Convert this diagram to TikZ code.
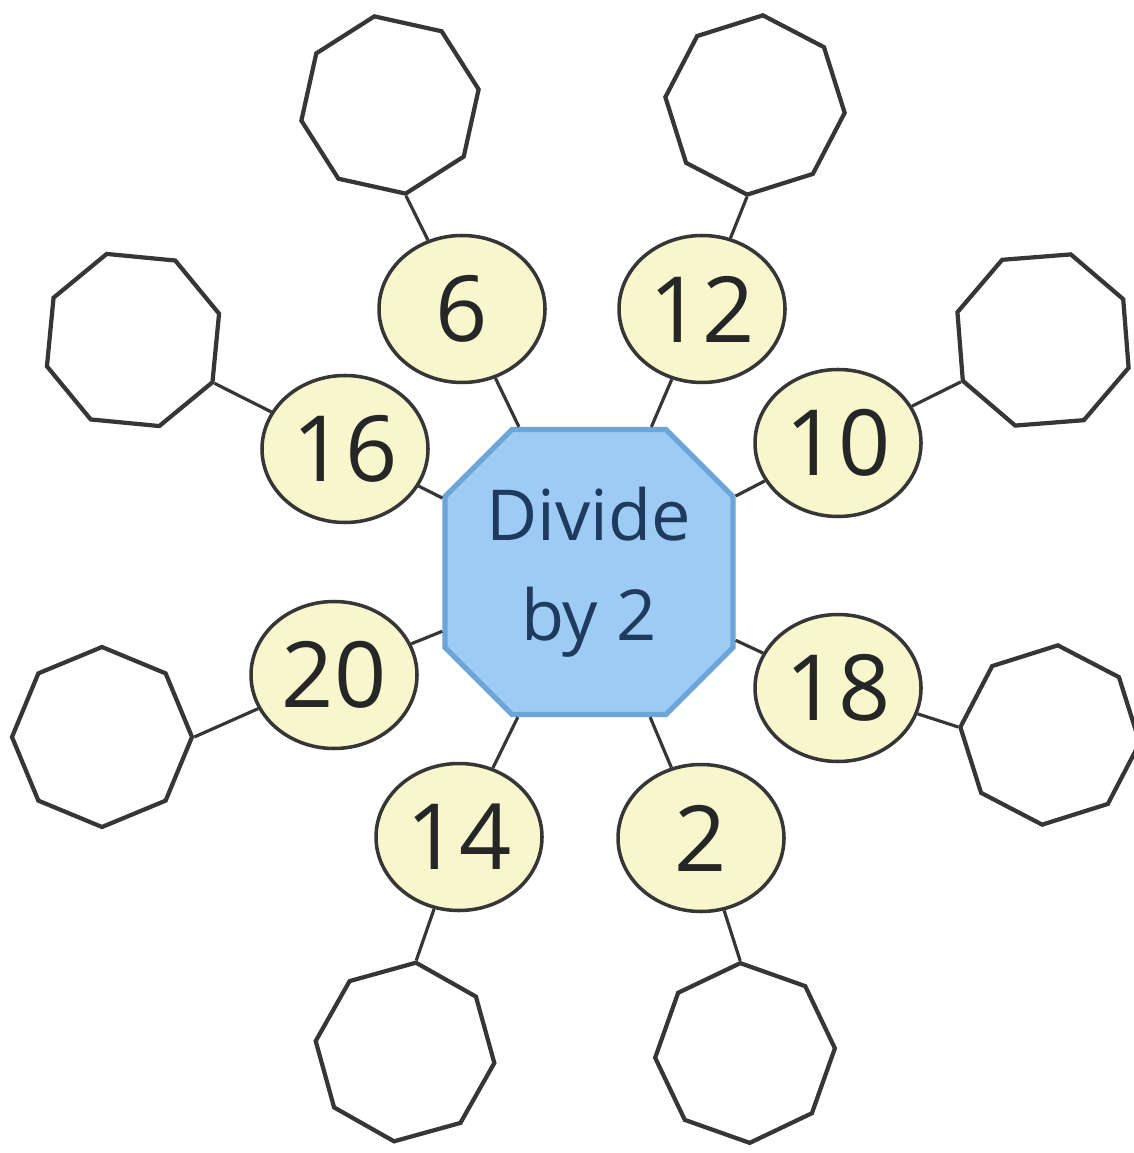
\documentclass[tikz,border=0pt]{standalone}
\usepackage{fontspec}
\setmainfont{Open Sans}
\usetikzlibrary{positioning, shapes.geometric, shapes.misc}
\definecolor{Ink}{HTML}{363636}
\definecolor{Sky}{HTML}{9DCBF4}
\definecolor{SkyEdge}{HTML}{6CA5D9}
\definecolor{Navy}{HTML}{1E3A5F}
\definecolor{Cream}{HTML}{F7F6CD}
\tikzset{
    hubnode/.style={chamfered rectangle, chamfered rectangle xsep=0.335cm, chamfered rectangle ysep=0.335cm, minimum width=2.88cm, minimum height=2.85cm, inner sep=0pt, fill=Sky, draw=SkyEdge, line width=1.5pt, text=Navy, align=center, font=\fontsize{20}{28.5}\selectfont},
    numnode/.style={ellipse, minimum width=1.66cm, minimum height=1.47cm, inner sep=0pt, fill=Cream, draw=Ink, line width=1pt, text=black!85, font=\fontsize{26}{28}\selectfont},
    emptynode/.style={regular polygon, regular polygon sides=8, minimum size=1.8cm, inner sep=0pt, draw=Ink, line width=1.2pt, fill=white, rotate=#1},
    link/.style={draw=Ink, line width=0.9pt},
}

\begin{document}
\begin{tikzpicture}
    \useasboundingbox (0,0) rectangle (11.33,-11.53);

    % Ottagono centrale
    \node[hubnode] (hub) at (5.89,-5.72) {Divide\\by 2};

    % Numeri da dividere
    \node[numnode] (n6)  at (4.62,-3.09) {6};
    \node[numnode] (n12) at (7.02,-3.09) {12};
    \node[numnode] (n16) at (3.45,-4.49) {16};
    \node[numnode] (n10) at (8.38,-4.43) {10};
    \node[numnode] (n20) at (3.34,-6.75) {20};
    \node[numnode] (n18) at (8.38,-6.88) {18};
    \node[numnode] (n14) at (4.59,-8.37) {14};
    \node[numnode] (n2)  at (7.01,-8.38) {2};

    % Caselle vuote per le risposte
    \node[emptynode=-147.5] (a6)  at (3.90,-1.05) {};
    \node[emptynode=-162.5] (a12) at (7.55,-1.05) {};
    \node[emptynode=-95.5] (a16) at (1.33,-3.40) {};
    \node[emptynode=139.5] (a10) at (10.43,-3.40) {};
    \node[emptynode=-67.5] (a20) at (1.02,-7.37) {};
    \node[emptynode=107.5] (a18) at (10.50,-7.35) {};
    \node[emptynode=15.5] (a14) at (4.05,-10.52) {};
    \node[emptynode=25.5] (a2)  at (7.45,-10.53) {};

    % Collegamenti centro -> numeri
    \draw[link] (hub) -- (n6);
    \draw[link] (hub) -- (n12);
    \draw[link] (hub) -- (n16);
    \draw[link] (hub) -- (n10);
    \draw[link] (hub) -- (n20);
    \draw[link] (hub) -- (n18);
    \draw[link] (hub) -- (n14);
    \draw[link] (hub) -- (n2);

    % Collegamenti numeri -> risposte
    \draw[link] (n6)  -- (a6.corner 1);
    \draw[link] (n12) -- (a12.corner 1);
    \draw[link] (n16) -- (a16.corner 1);
    \draw[link] (n10) -- (a10.corner 1);
    \draw[link] (n20) -- (a20.corner 1);
    \draw[link] (n18) -- (a18.corner 1);
    \draw[link] (n14) -- (a14.corner 1);
    \draw[link] (n2)  -- (a2.corner 1);
\end{tikzpicture}
\end{document}
